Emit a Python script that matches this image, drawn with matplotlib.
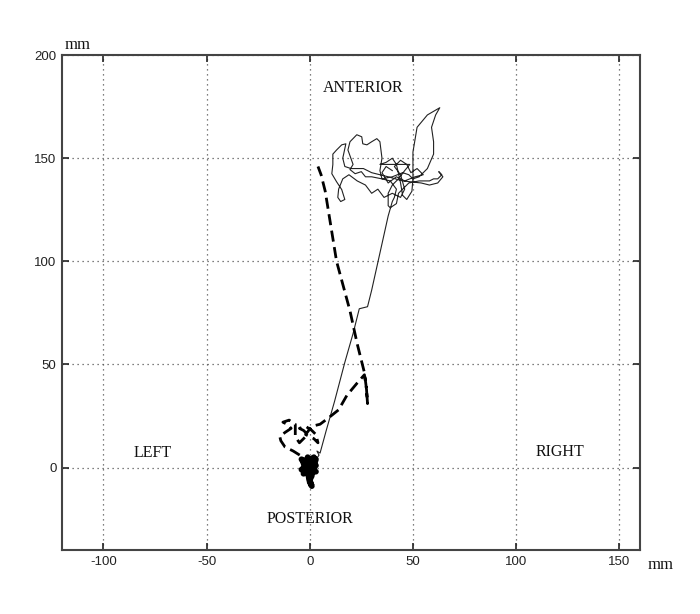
import matplotlib
matplotlib.use("Agg")
import matplotlib.pyplot as plt

# --- data (mm) ---
# thin solid trajectory: leaves the start cluster, climbs to the anterior tangle
solid_x = [0, 1, 3, 4.5, 3.5, 5, 8, 12, 17, 21, 24, 28, 30, 34, 38, 40,
           41, 42, 39, 35, 30, 27, 25, 22, 19.5, 21, 18.5, 19.5, 22.8, 25.2, 25.7, 27.7, 30, 32.5, 34, 35, 34, 35,
           40, 45, 48, 50, 53, 57, 60, 60, 59, 61, 63, 57, 52, 51, 50, 50, 50, 49.5, 47, 45, 44, 42, 40, 37, 34,
           38, 44, 48.5, 46, 43, 40, 38, 38, 39, 42, 43, 48, 53, 58, 60, 62, 64, 62.5, 64.5, 62, 58, 54,
           45, 38, 30, 26, 23, 20, 17, 16, 17.5, 15.5, 13, 11.2, 11.2, 10.7, 13, 15.5, 17, 15, 13.6, 14,
           16, 19, 23, 27, 30, 33, 36, 40, 44, 46, 44, 41, 44, 47, 49, 52, 55, 51, 46, 42, 38, 35, 37, 40]
solid_y = [0, 1, 4, 6, 8, 7, 18, 32, 51, 65, 77, 78, 86, 104, 122, 129,
           131, 135, 139, 140, 141, 141, 143.5, 142.5, 144.5, 147, 154, 158, 161.4, 160.4, 157, 156.5, 158, 159.5, 158, 150, 144, 140,
           141, 143, 142, 140, 141, 145, 152, 158, 165, 171, 174.5, 171, 165, 159, 153, 146, 140, 134, 130, 132, 138, 147, 150, 148, 147,
           147, 147, 147, 144, 140, 137, 133, 127, 126, 128, 133, 138, 139, 139, 140, 140, 142, 143.5, 141, 138, 137, 138,
           139, 141, 143, 145, 145, 145, 146, 150, 157, 156.5, 154, 152, 147, 142.5, 138.6, 134.8, 130, 129, 131, 135,
           140, 142, 139, 137, 133, 135, 131, 133, 131, 135, 142, 146, 149, 147, 143, 145, 142, 141, 139, 141, 138, 143, 146, 144]

# thick dashed trajectory: wanders near the start, then to the right and up to the anterior region
dash_x = [0, -1, -4, -8, -12, -14, -14.5, -12, -9, -11, -13, -10, -7, -7, -5, -3, -1, -3, -5, -2, 1, 3, 4,
          2, 0, -2, 1, 5, 9, 14, 18, 23, 26.5, 27.5, 28, 27.5, 26.5, 23, 19.5, 13, 7.5, 5.5, 4]
dash_y = [0, 3, 5.5, 8, 10, 13, 15, 17, 19, 21, 22, 23, 21, 15, 12, 14, 16, 18, 19, 20, 18, 16, 12,
          14, 15, 16, 20, 21, 24, 28, 35, 41, 45, 38, 31, 38, 46, 60, 76, 100, 134, 142, 146]

# dense scribble at the starting position
start_x = [0, -3, 2, -2, 3, -4, 1, -1, 2, -3, 3, 0, -2, 2, -4, 1, 0, 1, 0, -1, 3, -3, 2, 0, -2, 1]
start_y = [0, 2, 3, -2, 1, 4, -3, 5, -1, -3, 4, -5, 1, 2, -1, -4, -6, -9, -7, -2, -2, 0, 5, 2, 3, -1]

x_ticks = [-100, -50, 0, 50, 100, 150]
y_ticks = [0, 50, 100, 150, 200]
x_lim = (-120, 160)
y_lim = (-40, 200)

region_labels = ["ANTERIOR", "POSTERIOR", "LEFT", "RIGHT"]
region_pos = [(26, 184), (0, -25), (-76, 7), (121, 7.5)]

# --- figure ---
fig = plt.figure(figsize=(7.0, 6.14), dpi=100)
ax = fig.add_axes([0.0886, 0.1042, 0.8257, 0.806])

ax.plot(solid_x, solid_y, color="#222222", lw=0.8, solid_joinstyle="round")
ax.plot(dash_x, dash_y, color="black", lw=2.0, linestyle=(0, (4, 2)))
ax.plot(start_x, start_y, color="black", lw=4.2, solid_joinstyle="round")

ax.set_xlim(*x_lim)
ax.set_ylim(*y_lim)
ax.set_xticks(x_ticks)
ax.set_yticks(y_ticks)
ax.set_xticklabels([str(t) for t in x_ticks])
ax.set_yticklabels([str(t) for t in y_ticks])

ax.grid(True, color="#555555", linestyle=(0, (1, 3)), lw=0.9)
ax.tick_params(direction="in", length=5, width=1.2, top=True, right=True,
               labelsize=9.5, colors="#222222", pad=4)
for lab in ax.get_xticklabels() + ax.get_yticklabels():
    lab.set_family(["Liberation Sans Narrow", "Liberation Sans", "DejaVu Sans"])
for sp in ax.spines.values():
    sp.set_color("#444444")
    sp.set_linewidth(1.5)

serif = ["Liberation Serif", "DejaVu Serif"]
for lab, (px, py) in zip(region_labels, region_pos):
    ax.text(px, py, lab, ha="center", va="center", fontsize=11.5, family=serif, color="#111111")

ax.text(0.027, 1.004, "mm", transform=ax.transAxes, ha="center", va="bottom",
        fontsize=12, family=serif, color="#111111")
ax.text(1.013, -0.015, "mm", transform=ax.transAxes, ha="left", va="top",
        fontsize=12, family=serif, color="#111111")

fig.savefig("out.png", dpi=100, facecolor="white")
